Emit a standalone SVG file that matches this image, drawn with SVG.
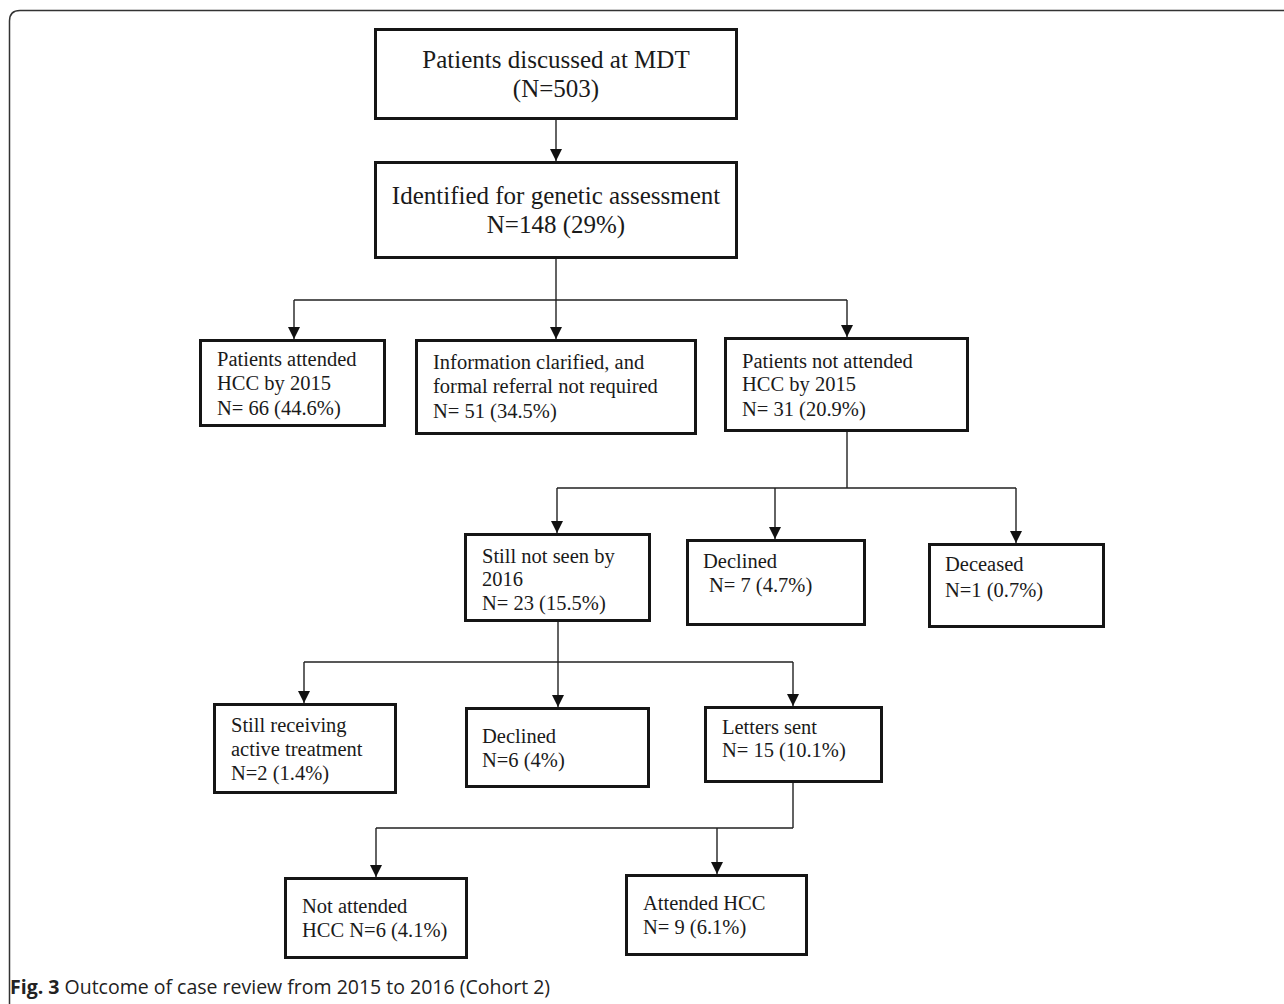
<svg xmlns="http://www.w3.org/2000/svg" width="1284" height="1004" viewBox="0 0 1284 1004">
<defs>
<marker id="ah" viewBox="0 0 12 12" refX="12" refY="6" markerWidth="12" markerHeight="12" markerUnits="userSpaceOnUse" orient="auto">
<path d="M0,0 L12,6 L0,12 z" fill="#111"/>
</marker>
<style>
.box{fill:#fff;stroke:#151515;stroke-width:3}
.t{font-family:"Liberation Serif","Times New Roman",serif;font-size:20.5px;fill:#1a1a1a}
.tl{font-family:"Liberation Serif","Times New Roman",serif;font-size:25px;fill:#1a1a1a;text-anchor:middle}
.c{fill:none;stroke:#222;stroke-width:1.4}
.a{fill:none;stroke:#222;stroke-width:1.4;marker-end:url(#ah)}
.cap{font-family:"Open Sans","Noto Sans",sans-serif;font-size:19.5px;fill:#222}
</style>
</defs>
<rect width="1284" height="1004" fill="#fff"/>
<path d="M9.5,1012 L9.5,21 Q9.5,10.5 20,10.5 L1290,10.5" fill="none" stroke="#333" stroke-width="1.5"/>

<g id="connectors">
<path class="a" d="M556,120 L556,161"/>
<path class="c" d="M556,259 L556,300 M294,300 L847,300"/>
<path class="a" d="M294,300 L294,339"/>
<path class="a" d="M556,300 L556,339"/>
<path class="a" d="M847,300 L847,337"/>
<path class="c" d="M847,432 L847,488 M557,488 L1016,488"/>
<path class="a" d="M557,488 L557,533"/>
<path class="a" d="M775,488 L775,539"/>
<path class="a" d="M1016,488 L1016,543"/>
<path class="c" d="M558,622 L558,662 M304,662 L793,662"/>
<path class="a" d="M304,662 L304,703"/>
<path class="a" d="M558,662 L558,707"/>
<path class="a" d="M793,662 L793,706"/>
<path class="c" d="M793,783 L793,828 M376,828 L793,828"/>
<path class="a" d="M376,828 L376,877"/>
<path class="a" d="M717,828 L717,874"/>
</g>

<g id="n1"><rect class="box" x="375.5" y="29.5" width="361" height="89"/>
<text class="tl" x="556" y="68">Patients discussed at MDT</text>
<text class="tl" x="556" y="97">(N=503)</text></g>

<g id="n2"><rect class="box" x="375.5" y="162.5" width="361" height="95"/>
<text class="tl" x="556" y="204">Identified for genetic assessment</text>
<text class="tl" x="556" y="233">N=148 (29%)</text></g>

<g id="nA"><rect class="box" x="200.5" y="340.5" width="184" height="85"/>
<text class="t" x="217" y="366">Patients attended</text>
<text class="t" x="217" y="390">HCC by 2015</text>
<text class="t" x="217" y="415">N= 66 (44.6%)</text></g>

<g id="nB"><rect class="box" x="416.5" y="340.5" width="279" height="93"/>
<text class="t" x="433" y="369">Information clarified, and</text>
<text class="t" x="433" y="393">formal referral not required</text>
<text class="t" x="433" y="418">N= 51 (34.5%)</text></g>

<g id="nC"><rect class="box" x="725.5" y="338.5" width="242" height="92"/>
<text class="t" x="742" y="368">Patients not attended</text>
<text class="t" x="742" y="391">HCC by 2015</text>
<text class="t" x="742" y="416">N= 31 (20.9%)</text></g>

<g id="nD"><rect class="box" x="465.5" y="534.5" width="184" height="86"/>
<text class="t" x="482" y="563">Still not seen by</text>
<text class="t" x="482" y="586">2016</text>
<text class="t" x="482" y="610">N= 23 (15.5%)</text></g>

<g id="nE"><rect class="box" x="687.5" y="540.5" width="177" height="84"/>
<text class="t" x="703" y="568">Declined</text>
<text class="t" x="709" y="592">N= 7 (4.7%)</text></g>

<g id="nF"><rect class="box" x="929.5" y="544.5" width="174" height="82"/>
<text class="t" x="945" y="571">Deceased</text>
<text class="t" x="945" y="597">N=1 (0.7%)</text></g>

<g id="nG"><rect class="box" x="214.5" y="704.5" width="181" height="88"/>
<text class="t" x="231" y="732">Still receiving</text>
<text class="t" x="231" y="756">active treatment</text>
<text class="t" x="231" y="780">N=2 (1.4%)</text></g>

<g id="nH"><rect class="box" x="466.5" y="708.5" width="182" height="78"/>
<text class="t" x="482" y="743">Declined</text>
<text class="t" x="482" y="767">N=6 (4%)</text></g>

<g id="nI"><rect class="box" x="705.5" y="707.5" width="176" height="74"/>
<text class="t" x="722" y="734">Letters sent</text>
<text class="t" x="722" y="757">N= 15 (10.1%)</text></g>

<g id="nJ"><rect class="box" x="285.5" y="878.5" width="181" height="79"/>
<text class="t" x="302" y="913">Not attended</text>
<text class="t" x="302" y="937">HCC N=6 (4.1%)</text></g>

<g id="nK"><rect class="box" x="626.5" y="875.5" width="180" height="79"/>
<text class="t" x="643" y="910">Attended HCC</text>
<text class="t" x="643" y="934">N= 9 (6.1%)</text></g>

<text class="cap" x="10" y="994"><tspan font-weight="bold">Fig. 3</tspan> Outcome of case review from 2015 to 2016 (Cohort 2)</text>
</svg>
